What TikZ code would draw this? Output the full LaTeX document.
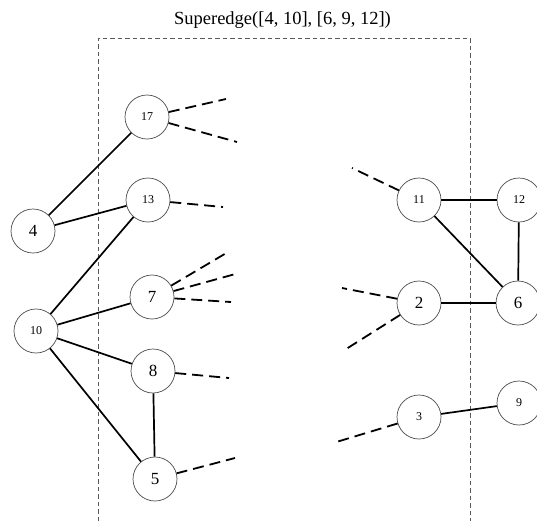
\documentclass[tikz,border=0pt]{standalone}
\usepackage{fontspec}
\setmainfont{Liberation Serif}
\begin{document}
\begin{tikzpicture}[x=1pt,y=-1pt,
  vtx/.style={circle,draw=black!70,line width=0.7pt,minimum size=44pt,inner sep=0pt,fill=white},
  big/.style={font=\fontsize{17}{17}\selectfont},
  small/.style={font=\fontsize{12}{12}\selectfont},
  edge/.style={line width=1.7pt},
  stub/.style={line width=1.8pt,dash pattern=on 11pt off 6pt},
  frame/.style={draw=black!65,line width=1pt,dash pattern=on 4.5pt off 3pt}]
\useasboundingbox (0,0) rectangle (537,523);
\node[anchor=base,font=\fontsize{18.5}{18.5}\selectfont] (title) at (282.5,24) {Superedge([4, 10], [6, 9, 12])};
\draw[frame] (98,521) -- (98,38) -- (470,38) -- (470,521);
% nodes
\node[vtx,small] (n17) at (147,117) {17};
\node[vtx,small] (n13) at (148,200) {13};
\node[vtx,big] (n4) at (33,231) {4};
\node[vtx,big] (n7) at (152,297) {7};
\node[vtx,small] (n10) at (36,331) {10};
\node[vtx,big] (n8) at (153,371) {8};
\node[vtx,big] (n5) at (155,479) {5};
\node[vtx,small] (n11) at (419,200) {11};
\node[vtx,small] (n12) at (519,200) {12};
\node[vtx,big] (n2) at (419,303) {2};
\node[vtx,big] (n6) at (518,303) {6};
\node[vtx,small] (n3) at (419,417) {3};
\node[vtx,small] (n9) at (519,403) {9};
% free ends
\coordinate (a17a) at (226,99);
\coordinate (a17b) at (237,142);
\coordinate (a13) at (223,207);
\coordinate (a7a) at (228,252);
\coordinate (a7b) at (239,273);
\coordinate (a7c) at (231,302);
\coordinate (a8) at (229,378);
\coordinate (a5) at (235,458);
\coordinate (a11) at (352,168);
\coordinate (a2a) at (342,288);
\coordinate (a2b) at (343,351);
\coordinate (a3) at (333,443);
% edges
\draw[edge] (n4) -- (n17);
\draw[edge] (n4) -- (n13);
\draw[edge] (n10) -- (n13);
\draw[edge] (n10) -- (n7);
\draw[edge] (n10) -- (n8);
\draw[edge] (n10) -- (n5);
\draw[edge] (n8) -- (n5);
\draw[edge] (n11) -- (n12);
\draw[edge] (n11) -- (n6);
\draw[edge] (n12) -- (n6);
\draw[edge] (n2) -- (n6);
\draw[edge] (n3) -- (n9);
% stubs
\draw[stub] (n17) -- (a17a);
\draw[stub] (n17) -- (a17b);
\draw[stub] (n13) -- (a13);
\draw[stub] (n7) -- (a7a);
\draw[stub] (n7) -- (a7b);
\draw[stub] (n7) -- (a7c);
\draw[stub] (n8) -- (a8);
\draw[stub] (n5) -- (a5);
\draw[stub] (n11) -- (a11);
\draw[stub] (n2) -- (a2a);
\draw[stub] (n2) -- (a2b);
\draw[stub] (n3) -- (a3);
\end{tikzpicture}
\end{document}
